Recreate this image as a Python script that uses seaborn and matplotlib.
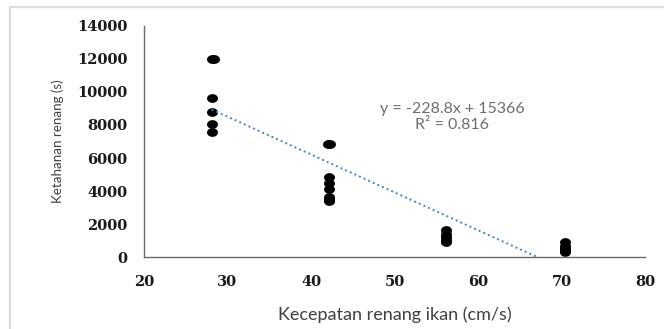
import numpy as np
import pandas as pd
import matplotlib
matplotlib.use("Agg")
import matplotlib.pyplot as plt
from matplotlib.path import Path
from matplotlib.lines import Line2D
import seaborn as sns

# ---- data ----
speed_cm_s = [28.1, 28.35, 28.2, 28.2, 28.2, 28.2,
              42.05, 42.3, 42.2, 42.2, 42.2, 42.2, 42.2, 42.2,
              56.2, 56.2, 56.2, 56.2, 56.2,
              70.4, 70.4, 70.4, 70.4, 70.4]
endurance_s = [12000, 12000, 9620, 8760, 8050, 7560,
               6860, 6860, 4870, 4500, 4150, 3650, 3500, 3400,
               1630, 1400, 1230, 1050, 930,
               900, 700, 560, 420, 320]
trend_slope = -228.8
trend_intercept = 15366
trend_label = "y = -228.8x + 15366"
r2_label = "R\u00b2 = 0.816"
x_ticks = [20, 30, 40, 50, 60, 70, 80]
y_ticks = [0, 2000, 4000, 6000, 8000, 10000, 12000, 14000]
x_label = "Kecepatan renang ikan (cm/s)"
y_label = "Ketahanan renang (s)"

df = pd.DataFrame({"speed": speed_cm_s, "endurance": endurance_s})
trend_x = [min(speed_cm_s), x_ticks[-1]]
trend_df = pd.DataFrame({"x": trend_x,
                         "y": [trend_slope * v + trend_intercept for v in trend_x]})

sns.set_theme(style="white")
plt.rcParams["font.family"] = ["Lato", "DejaVu Sans"]

W, H = 664, 329
fig = plt.figure(figsize=(W / 100, H / 100), dpi=100)
fig.patch.set_facecolor("white")
ax = fig.add_axes([144 / W, 1 - 257.3 / H, (645 - 144) / W, (257.3 - 25.7) / H])

# ellipse marker (reference image is horizontally stretched)
t = np.linspace(0, 2 * np.pi, 60)
ell = Path(np.column_stack([np.cos(t), 0.8 * np.sin(t)]), closed=True)

sns.lineplot(data=trend_df, x="x", y="y", ax=ax, color="#4F81BD",
             linestyle=(0, (1, 1.6)), linewidth=1.4, zorder=3)
sns.scatterplot(data=df, x="speed", y="endurance", ax=ax, marker=ell,
                s=62, color="black", edgecolor="black", linewidth=0, zorder=2)

ax.set_xlim(x_ticks[0], x_ticks[-1])
ax.set_ylim(y_ticks[0], y_ticks[-1])
ax.set_xticks(x_ticks)
ax.set_yticks(y_ticks)
for sp in ["top", "right"]:
    ax.spines[sp].set_visible(False)
for sp in ["left", "bottom"]:
    ax.spines[sp].set_color("#6b6b6b")
    ax.spines[sp].set_linewidth(1.0)
ax.tick_params(axis="both", direction="in", length=3, width=1.0, color="#6b6b6b",
               labelsize=10.5, labelcolor="#1a1a1a")
ax.tick_params(axis="y", pad=12)
ax.tick_params(axis="x", pad=13)
for lab in ax.get_xticklabels() + ax.get_yticklabels():
    lab.set_fontfamily(["DejaVu Serif"])
    lab.set_fontweight("bold")

ax.set_xlabel(x_label, fontsize=13, color="#404040", labelpad=12)
ax.set_ylabel(y_label, fontsize=9.6, color="#404040", labelpad=9)

fig.text(452 / W, 1 - 108.7 / H, trend_label, fontsize=11.5, color="#6e6e6e",
         ha="center", va="center")
fig.text(452 / W, 1 - 124.7 / H, r2_label, fontsize=11.5, color="#6e6e6e",
         ha="center", va="center")

# light outer frame (left and top edges visible)
fig.add_artist(Line2D([10 / W, 10 / W], [0, 1 - 7 / H], transform=fig.transFigure,
                      color="#dcdcdc", linewidth=1.6))
fig.add_artist(Line2D([10 / W, 1], [1 - 7 / H, 1 - 7 / H], transform=fig.transFigure,
                      color="#dcdcdc", linewidth=1.6))

fig.savefig("out.png", dpi=100)
